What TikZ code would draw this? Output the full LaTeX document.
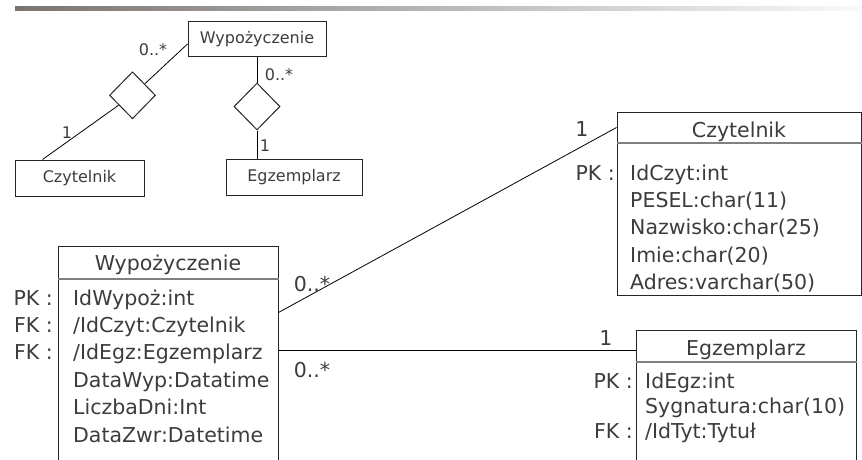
\documentclass[tikz,border=0pt]{standalone}
\usepackage{fontspec}
\setmainfont{DejaVu Sans}
\usetikzlibrary{shapes.geometric}
\definecolor{ink}{HTML}{3C3C3C}
\definecolor{barleft}{HTML}{7A7470}
\definecolor{barmid}{HTML}{CFC7BA}
\definecolor{barright}{HTML}{FAFAF8}
\begin{document}
\begin{tikzpicture}[x=1pt,y=-1pt,
  small/.style={font=\fontsize{16}{18}\selectfont,text=ink},
  big/.style={font=\fontsize{20.5}{27.4}\selectfont,text=ink,inner sep=0pt},
  smallbox/.style={small,draw=black!85,line width=1pt},
  bigbox/.style={draw=black!85,line width=1pt},
  rel/.style={diamond,draw=black!85,line width=1pt,fill=white,minimum width=46pt,minimum height=47pt,inner sep=0pt},
  sep/.style={draw=black!50,line width=2pt},
  link/.style={draw=black,line width=0.8pt}]
  \useasboundingbox (0,0) rectangle (862,460);
  \clip (0,0) rectangle (862,460);
  \shade[left color=barleft,middle color=barmid,right color=barright] (15,7) rectangle (862,10.5);
  % small diagram
  \node[smallbox,minimum width=138pt,minimum height=35pt] (sw) at (257,39.5) {Wypożyczenie};
  \node[smallbox,minimum width=129pt,minimum height=36pt] (sc) at (79.5,178) {Czytelnik};
  \node[smallbox,minimum width=136pt,minimum height=36pt] (se) at (294,177) {Egzemplarz};
  \node[rel] (d1) at (132.5,95.3) {};
  \node[rel] (d2) at (257,106.5) {};
  \draw[link] ([yshift=-4.5pt]sw.west) -- (d1) -- ([xshift=28pt]sc.north west);
  \draw[link] (sw.south) -- (d2) -- (d2 |- se.north);
  \node[small] (m1) at (153,50) {0..*};
  \node[small] (o1) at (67,133) {1};
  \node[small] (m2) at (279,75) {0..*};
  \node[small] (o2) at (265,146) {1};
  % Czytelnik
  \node[bigbox,minimum width=244pt,minimum height=183pt] (cz) at (739,203.5) {};
  \node[big,anchor=base] (czt) at (739,137) {Czytelnik};
  \draw[sep] ([yshift=-31pt]cz.north west) -- ([yshift=-31pt]cz.north east);
  \node[big,anchor=base west,align=left] (cza) at (630,289.6) {IdCzyt:int\\PESEL:char(11)\\Nazwisko:char(25)\\Imie:char(20)\\Adres:varchar(50)};
  \node[big,anchor=base east] (czk) at (615,180) {PK :};
  % Wypozyczenie
  \node[bigbox,minimum width=220pt,minimum height=240pt] (wy) at (168,366) {};
  \node[big,anchor=base] (wyt) at (168,270.5) {Wypożyczenie};
  \draw[sep] ([yshift=-33pt]wy.north west) -- ([yshift=-33pt]wy.north east);
  \node[big,anchor=base west,align=left] (wya) at (73,442) {IdWypoż:int\\/IdCzyt:Czytelnik\\/IdEgz:Egzemplarz\\DataWyp:Datatime\\LiczbaDni:Int\\DataZwr:Datetime};
  \node[big,anchor=base east,align=right] (wyk) at (53,359.8) {PK :\\FK :\\FK :};
  % Egzemplarz
  \node[bigbox,minimum width=220pt,minimum height=150pt] (eg) at (746,405) {};
  \node[big,anchor=base] (egt) at (746,355) {Egzemplarz};
  \draw[sep] ([yshift=-32pt]eg.north west) -- ([yshift=-32pt]eg.north east);
  \node[big,anchor=base west,align=left,font=\fontsize{20.5}{25.2}\selectfont] (ega) at (645,438.4) {IdEgz:int\\Sygnatura:char(10)\\/IdTyt:Tytuł};
  \node[big,anchor=base east] (egk1) at (633,388) {PK :};
  \node[big,anchor=base east] (egk2) at (633,438.4) {FK :};
  % associations
  \draw[link] ([yshift=-67pt]wy.north east) -- ([yshift=-16pt]cz.north west);
  \draw[link] ([yshift=-105pt]wy.north east) -- ([yshift=-21pt]eg.north west);
  \node[big] (m3) at (312,284) {0..*};
  \node[big] (o3) at (582,129) {1};
  \node[big] (o4) at (606,338) {1};
  \node[big] (m4) at (312,370) {0..*};
\end{tikzpicture}
\end{document}
